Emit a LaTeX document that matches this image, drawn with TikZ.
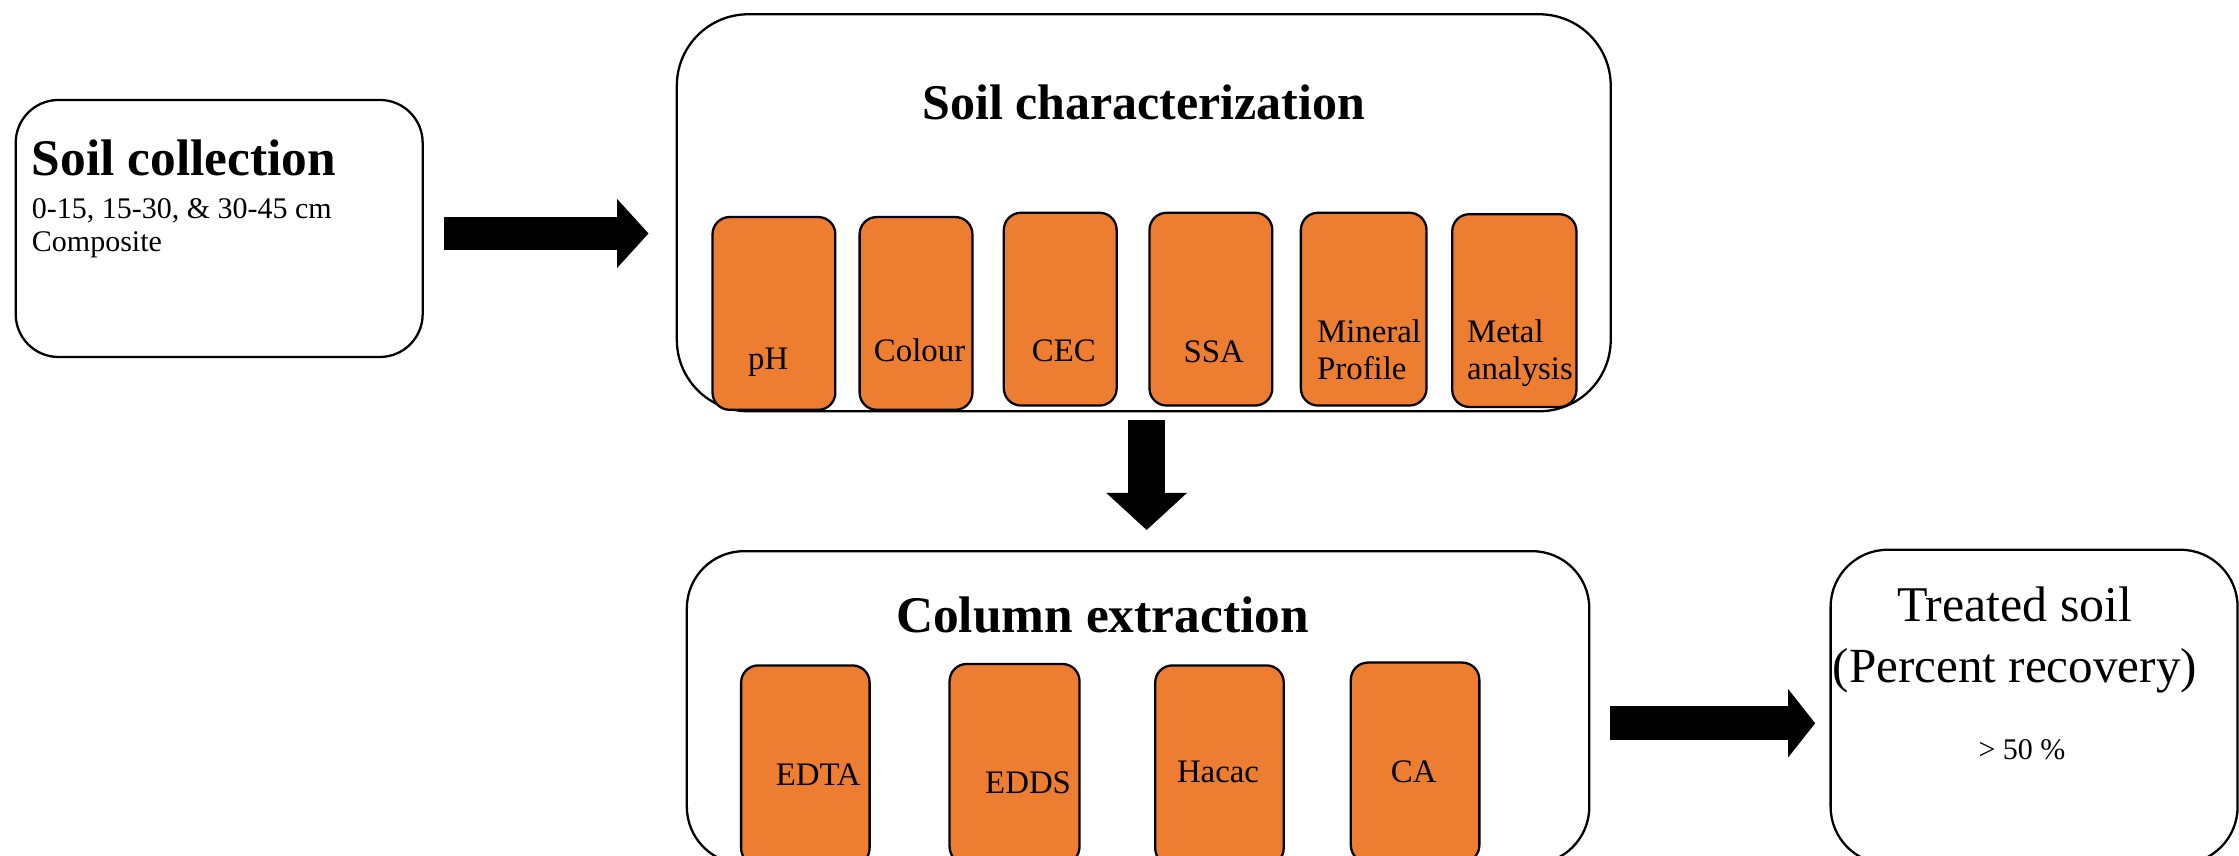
\documentclass[tikz,border=0pt]{standalone}
\usepackage{fontspec}
\setmainfont{Liberation Serif}
\usetikzlibrary{arrows.meta,calc}
\definecolor{soilorange}{HTML}{ED7D31}
\begin{document}
\begin{tikzpicture}[x=0.5pt,y=-0.5pt,
  panel/.style={draw=black, line width=0.8pt, fill=white, rounded corners=#1, inner sep=0pt},
  panel/.default=20pt,
  tile/.style={draw=black, line width=0.8pt, fill=soilorange, rounded corners=6pt, inner sep=0pt},
  tilelabel/.style={anchor=base, inner sep=0pt, font=\fontsize{11.5}{13}\selectfont},
  headtext/.style={anchor=base, inner sep=0pt, font=\fontsize{18}{20}\selectfont\bfseries},
  bodytext/.style={anchor=base west, inner sep=0pt, font=\fontsize{10.5}{12}\selectfont},
  bigtext/.style={anchor=base, inner sep=0pt, font=\fontsize{17.2}{20}\selectfont},
  blockarrow/.style={line width=11.5pt, -{Triangle[length=11pt,width=23.5pt]}}]

\useasboundingbox (0,0) rectangle (1568,599);

% main panels
\node[panel=15pt, minimum width=142.5pt, minimum height=90pt] (coll) at (153.5,160) {};
\node[panel=25pt, minimum width=327pt, minimum height=139pt] (char) at (801,149) {};
\node[panel=20pt, minimum width=316pt, minimum height=109.5pt] (col) at (797,495.5) {};
\node[panel=20pt, minimum width=142.5pt, minimum height=110pt] (treat) at (1424.5,495) {};

% soil collection text
\node[headtext, anchor=base west] (collT) at (22,123) {Soil collection};
\node[bodytext] (collA) at (22,153) {0-15, 15-30, \& 30-45 cm};
\node[bodytext] (collB) at (22,176) {Composite};

% soil characterization
\node[headtext, font=\fontsize{17.5}{20}\selectfont\bfseries] (charT) at (801,84) {Soil characterization};
\node[tile, minimum width=43pt, minimum height=67.5pt] (ph) at (542,219.5) {};
\node[tile, minimum width=39.5pt, minimum height=67.5pt] (colour) at (641.5,219.5) {};
\node[tile, minimum width=39.5pt, minimum height=67.5pt] (cec) at (742.5,216.5) {};
\node[tile, minimum width=43pt, minimum height=67.5pt] (ssa) at (848,216.5) {};
\node[tile, minimum width=44pt, minimum height=67.5pt] (mineral) at (955,216.5) {};
\node[tile, minimum width=43.5pt, minimum height=67.5pt] (metal) at (1060.5,217.5) {};

\node[tilelabel] (phT) at (538,259) {pH};
\node[tilelabel] (colourT) at (644,253) {Colour};
\node[tilelabel] (cecT) at (745,253) {CEC};
\node[tilelabel] (ssaT) at (850,254) {SSA};
\node[tilelabel, anchor=base west] (mineralA) at (922,240) {Mineral};
\node[tilelabel, anchor=base west] (mineralB) at (922,266) {Profile};
\node[tilelabel, anchor=base west] (metalA) at (1027,240) {Metal};
\node[tilelabel, anchor=base west] (metalB) at (1027,266) {analysis};

% column extraction
\node[headtext] (colT) at (772,443) {Column extraction};
\node[tile, minimum width=45pt, minimum height=70pt] (edta) at (564,536) {};
\node[tile, minimum width=45.5pt, minimum height=70pt] (edds) at (710.5,535) {};
\node[tile, minimum width=45pt, minimum height=70pt] (hacac) at (854,536) {};
\node[tile, minimum width=45pt, minimum height=70pt] (ca) at (991,534) {};

\node[tilelabel] (edtaT) at (573,550) {EDTA};
\node[tilelabel] (eddsT) at (720,556) {EDDS};
\node[tilelabel] (hacacT) at (853,548) {Hacac};
\node[tilelabel] (caT) at (990,548) {CA};

% treated soil
\node[bigtext, font=\fontsize{17.5}{20}\selectfont] (treatA) at (1411,435) {Treated soil};
\node[bigtext] (treatB) at (1411,478) {(Percent recovery)};
\node[bigtext, font=\fontsize{10.5}{12}\selectfont] (treatC) at (1416,532) {> 50 \%};

% flow arrows
\draw[blockarrow] ($(coll.east)+(14,3.5)$) -- ($(char.west)+(-19,14.5)$);
\draw[line width=13pt, -{Triangle[length=13pt,width=27.5pt]}] ($(char.south)+(2,5)$) -- ($(col.north)+(6,-14)$);
\draw[line width=11.75pt, -{Triangle[length=9.5pt,width=23.5pt]}] ($(col.east)+(14,11)$) -- ($(treat.west)+(-10,11.5)$);
\end{tikzpicture}
\end{document}
